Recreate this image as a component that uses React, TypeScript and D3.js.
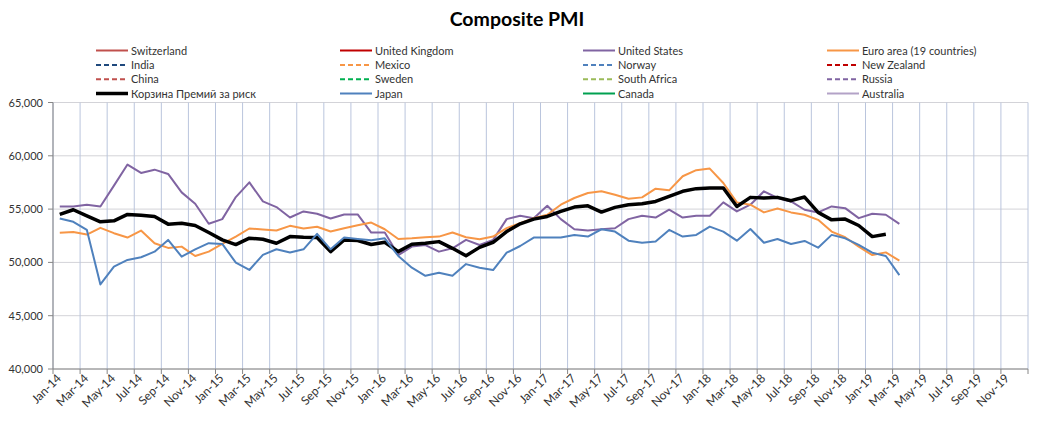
import React from "react";
import * as d3 from "d3";

const startYear = 2014;
const totalMonths = 72; // Jan-14 .. Dec-19
const yTicks = [40000, 45000, 50000, 55000, 60000, 65000];

const unitedStates = [
  55250, 55250, 55400, 55250, 57200, 59180, 58390, 58700, 58300, 56570, 55500, 53620,
  54060, 56130, 57510, 55720, 55190, 54210, 54780, 54560, 54120, 54500, 54500, 52800,
  52800, 50690, 51480, 51630, 51010, 51320, 52110, 51630, 52110, 54060, 54370, 54150,
  55310, 54060, 53110, 52990, 53110, 53200, 54060, 54370, 54210, 54940, 54210, 54370,
  54370, 55630, 54780, 55410, 56670, 56040, 55720, 54940, 54690, 55250, 55090, 54150,
  54560, 54470, 53620,
];
const euroArea = [
  52770, 52860, 52610, 53240, 52740, 52330, 52990, 51800, 51360, 51480, 50600, 51010,
  51730, 52420, 53180, 53080, 52990, 53430, 53180, 53340, 52900, 53210, 53490, 53740,
  53110, 52200, 52260, 52360, 52420, 52800, 52360, 52170, 52420, 53210, 53680, 54150,
  54470, 55410, 56040, 56510, 56670, 56350, 55970, 56100, 56920, 56760, 58080, 58650,
  58800, 57450, 55630, 55410, 54690, 55060, 54690, 54470, 53990, 52890, 52360, 51480,
  50690, 50940, 50160,
];
const japan = [
  54120, 53810, 53050, 47930, 49600, 50230, 50480, 51010, 52110, 50540, 51230, 51800,
  51730, 49980, 49290, 50700, 51230, 50920, 51230, 52680, 51230, 52330, 52200, 52070,
  52260, 50600, 49500, 48740, 49020, 48740, 49840, 49500, 49280, 50910, 51540, 52330,
  52330, 52330, 52580, 52420, 53110, 52890, 52040, 51850, 51950, 53050, 52420, 52580,
  53360, 52890, 52040, 53140, 51850, 52200, 51730, 52010, 51380, 52580, 52260, 51640,
  50910, 50600, 48800,
];
const basket = [
  54500, 54940, 54370, 53810, 53900, 54500, 54430, 54310, 53590, 53680, 53460, 52800,
  52110, 51670, 52270, 52170, 51800, 52420, 52360, 52330, 51010, 52110, 52050, 51680,
  51890, 51010, 51700, 51790, 51950, 51320, 50630, 51410, 51890, 52890, 53620, 54060,
  54310, 54780, 55190, 55310, 54720, 55160, 55410, 55500, 55720, 56200, 56670, 56920,
  56980, 56980, 55250, 56100, 56040, 56100, 55790, 56130, 54690, 53990, 54060, 53460,
  52420, 52640,
];
const empty: number[] = [];

type Series = { name: string; color: string; dashed: boolean; width: number; values: number[] };

// legend order (row-major, 4 columns)
const seriesList: Series[] = [
  { name: "Switzerland", color: "#C0504D", dashed: false, width: 2, values: empty },
  { name: "United Kingdom", color: "#C00000", dashed: false, width: 2, values: empty },
  { name: "United States", color: "#8064A2", dashed: false, width: 2, values: unitedStates },
  { name: "Euro area (19 countries)", color: "#F79646", dashed: false, width: 2, values: euroArea },
  { name: "India", color: "#1F497D", dashed: true, width: 2, values: empty },
  { name: "Mexico", color: "#F79646", dashed: true, width: 2, values: empty },
  { name: "Norway", color: "#4F81BD", dashed: true, width: 2, values: empty },
  { name: "New Zealand", color: "#C00000", dashed: true, width: 2, values: empty },
  { name: "China", color: "#C0504D", dashed: true, width: 2, values: empty },
  { name: "Sweden", color: "#00B050", dashed: true, width: 2, values: empty },
  { name: "South Africa", color: "#9BBB59", dashed: true, width: 2, values: empty },
  { name: "Russia", color: "#8064A2", dashed: true, width: 2, values: empty },
  { name: "Корзина Премий за риск", color: "#000000", dashed: false, width: 3.5, values: basket },
  { name: "Japan", color: "#4F81BD", dashed: false, width: 2, values: japan },
  { name: "Canada", color: "#00A050", dashed: false, width: 2, values: empty },
  { name: "Australia", color: "#B3A2C7", dashed: false, width: 2, values: empty },
];

const W = 1039;
const H = 431;
const plotLeft = 53;
const plotRight = 1028;
const plotTop = 102.5;
const plotBottom = 369;
const font = "Lato, 'Open Sans', sans-serif";

export default function App() {
  const x = d3.scaleLinear().domain([0, totalMonths]).range([plotLeft, plotRight]);
  const y = d3.scaleLinear().domain([40000, 65000]).range([plotBottom, plotTop]);
  const fmt = d3.timeFormat("%b-%y");
  const xTicks = d3.range(0, totalMonths + 1, 2);

  const line = d3
    .line<number>()
    .x((_, i) => x(i + 0.5))
    .y((d) => y(d));

  const legendCols = [96, 340, 583, 827];
  const legendRows = [50.5, 65, 79.3, 93.5];

  return (
    <svg
      width={W}
      height={H}
      style={{ position: "absolute", left: 0, top: 0, background: "#fff" }}
      fontFamily={font}
    >
      <rect x={0} y={0} width={W} height={H} fill="#fff" />
      <text x={517} y={26} textAnchor="middle" fontSize={19.5} fontWeight="bold" fill="#000">
        Composite PMI
      </text>

      {/* legend */}
      {seriesList.map((s, k) => {
        const cx = legendCols[k % 4];
        const cy = legendRows[Math.floor(k / 4)];
        return (
          <g key={s.name}>
            <line
              x1={cx}
              x2={cx + 32}
              y1={cy}
              y2={cy}
              stroke={s.color}
              strokeWidth={s.width === 2 ? 2 : 3.5}
              strokeDasharray={s.dashed ? "5,3" : undefined}
            />
            <text x={cx + 35} y={cy + 4} fontSize={11} fill="#333">
              {s.name}
            </text>
          </g>
        );
      })}

      {/* horizontal gridlines */}
      {yTicks.map((t) => (
        <line key={"h" + t} x1={plotLeft} x2={plotRight} y1={y(t)} y2={y(t)} stroke="#D3D3D8" strokeWidth={1} />
      ))}
      {/* vertical gridlines */}
      {xTicks.map((t) => (
        <line key={"v" + t} x1={x(t)} x2={x(t)} y1={plotTop} y2={plotBottom} stroke="#BAC5DD" strokeWidth={1} />
      ))}

      {/* axes */}
      <line x1={plotLeft} x2={plotLeft} y1={plotTop} y2={plotBottom} stroke="#868686" strokeWidth={1} />
      <line x1={plotLeft} x2={plotRight} y1={plotBottom} y2={plotBottom} stroke="#868686" strokeWidth={1} />
      {yTicks.map((t) => (
        <g key={"yt" + t}>
          <line x1={plotLeft - 5} x2={plotLeft} y1={y(t)} y2={y(t)} stroke="#868686" />
          <text x={43} y={y(t) + 4} textAnchor="end" fontSize={11} fill="#333">
            {d3.format(",")(t)}
          </text>
        </g>
      ))}
      {xTicks.map((t) => {
        const d = new Date(startYear, t, 1);
        const tx = x(t);
        return (
          <g key={"xt" + t}>
            <line x1={tx} x2={tx} y1={plotBottom} y2={plotBottom + 5} stroke="#868686" />
            {t < totalMonths && (
              <text
                transform={`translate(${tx + 9},${plotBottom + 10}) rotate(-45)`}
                textAnchor="end"
                fontSize={12}
                fill="#333"
              >
                {fmt(d)}
              </text>
            )}
          </g>
        );
      })}

      {/* series */}
      {seriesList.map((s, k) => {
        if (!s.values.length) return null;
        return (
          <path
            key={"s" + k}
            d={line(s.values) || ""}
            fill="none"
            stroke={s.color}
            strokeWidth={s.width}
            strokeLinejoin="round"
            strokeDasharray={s.dashed ? "5,3" : undefined}
          />
        );
      })}
    </svg>
  );
}
